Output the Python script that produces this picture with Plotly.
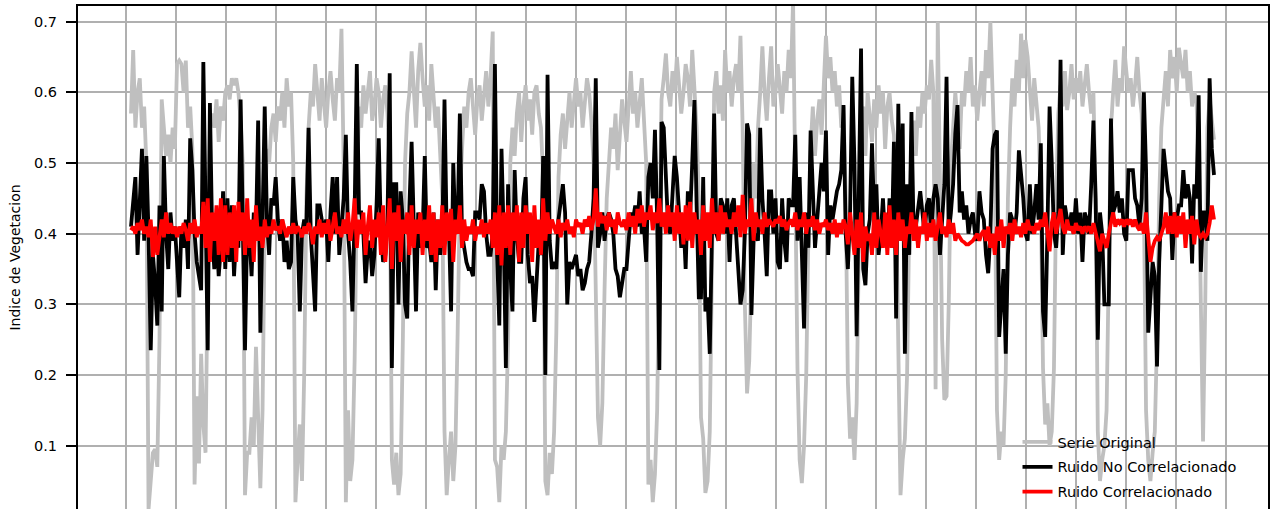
import numpy as np
import plotly.graph_objects as go

# time span of the series (decimal years), 16-day composites
t_start = 2000.106
t_end = 2021.766

serie_original = [
    0.57, 0.66, 0.55, 0.60, 0.62, 0.55, 0.58, 0.50,
    0.01, 0.06, 0.09, 0.095, 0.07, 0.25, 0.59,
    0.55, 0.51, 0.54, 0.50, 0.55, 0.52, 0.64, 0.645, 0.64, 0.60, 0.645, 0.55, 0.58, 0.52,
    0.045, 0.17, 0.075, 0.23, 0.13, 0.09, 0.35, 0.55,
    0.57, 0.55, 0.59, 0.53, 0.58, 0.56, 0.60, 0.61, 0.59, 0.62, 0.61, 0.62, 0.60, 0.56, 0.50,
    0.03, 0.09, 0.09, 0.14, 0.10, 0.24, 0.12, 0.04, 0.15, 0.42,
    0.52, 0.50, 0.55, 0.57, 0.53, 0.58, 0.56, 0.60, 0.55, 0.62, 0.58, 0.60, 0.50,
    0.02, 0.08, 0.13, 0.05, 0.20, 0.45,
    0.55, 0.60, 0.58, 0.64, 0.60, 0.56, 0.62, 0.58, 0.55, 0.60, 0.63, 0.59, 0.56, 0.62, 0.60,
    0.69, 0.50, 0.02, 0.15, 0.05, 0.08, 0.22, 0.45,
    0.58, 0.55, 0.61, 0.57, 0.60, 0.63, 0.56, 0.58, 0.62, 0.60, 0.55, 0.59, 0.61, 0.57, 0.50,
    0.08, 0.045, 0.09, 0.03, 0.06, 0.25, 0.50,
    0.57, 0.60, 0.658, 0.60, 0.55, 0.63, 0.67, 0.62, 0.58, 0.61, 0.56, 0.64, 0.60, 0.55, 0.58, 0.52, 0.45,
    0.12, 0.03, 0.08, 0.12, 0.05, 0.10, 0.26, 0.45,
    0.52, 0.58, 0.55, 0.60, 0.62, 0.57, 0.54, 0.59, 0.61, 0.56, 0.60, 0.63, 0.58, 0.62, 0.686,
    0.08, 0.07, 0.02, 0.10, 0.08, 0.12, 0.25, 0.50,
    0.55, 0.51, 0.57, 0.60, 0.53, 0.58, 0.61, 0.56, 0.59, 0.54, 0.60, 0.61, 0.57, 0.55, 0.48,
    0.05, 0.03, 0.09, 0.06, 0.12, 0.26, 0.48,
    0.54, 0.57, 0.52, 0.56, 0.60, 0.55, 0.58, 0.62, 0.58, 0.60, 0.55, 0.59, 0.62, 0.60, 0.56, 0.50,
    0.35, 0.14, 0.10, 0.16, 0.32, 0.45,
    0.50, 0.55, 0.52, 0.57, 0.49, 0.55, 0.59, 0.56, 0.53, 0.58, 0.63, 0.57, 0.60, 0.55, 0.58, 0.62, 0.56, 0.50,
    0.045, 0.08, 0.02, 0.06, 0.15, 0.40,
    0.59, 0.62, 0.655, 0.60, 0.58, 0.63, 0.60, 0.65, 0.61, 0.57, 0.60, 0.64, 0.62, 0.58, 0.66, 0.60, 0.55, 0.45,
    0.14, 0.11, 0.033, 0.05, 0.12, 0.35,
    0.60, 0.63, 0.57, 0.61, 0.56, 0.66, 0.60, 0.63, 0.58, 0.62, 0.64, 0.60, 0.68, 0.55,
    0.30, 0.174, 0.22, 0.35, 0.50, 0.45, 0.55,
    0.60, 0.665, 0.60, 0.56, 0.62, 0.665, 0.58, 0.60, 0.64, 0.61, 0.57, 0.63, 0.60, 0.66, 0.62, 0.73, 0.50,
    0.21, 0.08, 0.047, 0.10, 0.20, 0.40,
    0.52, 0.58, 0.51, 0.56, 0.59, 0.54, 0.60, 0.68, 0.62, 0.65, 0.60, 0.63, 0.58, 0.61, 0.55, 0.58, 0.45,
    0.19, 0.11, 0.14, 0.08, 0.16, 0.38,
    0.55, 0.58, 0.51, 0.60, 0.56, 0.53, 0.59, 0.55, 0.61, 0.57, 0.60, 0.52, 0.58, 0.60, 0.56, 0.54, 0.45,
    0.20, 0.03, 0.08, 0.11, 0.20, 0.42,
    0.52, 0.56, 0.51, 0.58, 0.55, 0.60, 0.57, 0.61, 0.59, 0.646, 0.60,
    0.18, 0.70, 0.45, 0.25, 0.165, 0.17, 0.30, 0.50,
    0.55, 0.60, 0.56, 0.52, 0.60, 0.58, 0.63, 0.60, 0.65, 0.58, 0.61, 0.56, 0.60, 0.63, 0.58, 0.66, 0.62, 0.70, 0.60, 0.50,
    0.15, 0.08, 0.12, 0.10, 0.20, 0.45,
    0.55, 0.62, 0.58, 0.646, 0.60, 0.683, 0.62, 0.674, 0.65, 0.60, 0.56, 0.62, 0.58, 0.55, 0.45,
    0.21, 0.13, 0.16, 0.10, 0.12, 0.21, 0.45,
    0.57, 0.61, 0.58, 0.63, 0.575, 0.60, 0.64, 0.59, 0.62, 0.60, 0.63, 0.58, 0.61, 0.64, 0.60, 0.57, 0.60, 0.45,
    0.12, 0.05, 0.08, 0.10, 0.15, 0.40,
    0.55, 0.60, 0.646, 0.58, 0.62, 0.60, 0.665, 0.63, 0.60, 0.62, 0.58, 0.61, 0.65, 0.60, 0.57, 0.45,
    0.15, 0.08, 0.05, 0.09, 0.12, 0.25, 0.45,
    0.55, 0.60, 0.63, 0.58, 0.66, 0.62, 0.65, 0.60, 0.663, 0.64, 0.62, 0.66, 0.60, 0.63, 0.58, 0.60, 0.59, 0.50,
    0.26, 0.106, 0.30, 0.55, 0.59, 0.56, 0.533,
]

ruido_no_correlacionado = [
    0.41, 0.44, 0.48, 0.37, 0.45, 0.52, 0.39, 0.51, 0.40, 0.235,
    0.37, 0.33, 0.27, 0.44, 0.29, 0.51, 0.40, 0.35, 0.43, 0.39,
    0.41, 0.36, 0.31, 0.41, 0.38, 0.42, 0.35, 0.535, 0.49, 0.40,
    0.36, 0.34, 0.32, 0.643, 0.40, 0.235, 0.585, 0.40, 0.35, 0.40,
    0.34, 0.38, 0.46, 0.35, 0.45, 0.36, 0.44, 0.34, 0.40, 0.38,
    0.59, 0.40, 0.235, 0.41, 0.40, 0.34, 0.43, 0.40, 0.56, 0.26,
    0.42, 0.58, 0.42, 0.37, 0.45, 0.44, 0.48, 0.42, 0.39, 0.42,
    0.36, 0.39, 0.35, 0.36, 0.48, 0.42, 0.40, 0.29, 0.40, 0.42,
    0.41, 0.55, 0.40, 0.33, 0.29, 0.44, 0.44, 0.42, 0.40, 0.42,
    0.36, 0.43, 0.48, 0.40, 0.48, 0.37, 0.42, 0.45, 0.54, 0.40,
    0.36, 0.29, 0.43, 0.64, 0.43, 0.43, 0.40, 0.33, 0.38, 0.39,
    0.34, 0.37, 0.44, 0.535, 0.40, 0.36, 0.37, 0.42, 0.627, 0.21,
    0.47, 0.47, 0.30, 0.46, 0.42, 0.30, 0.28, 0.44, 0.53, 0.40,
    0.29, 0.43, 0.38, 0.40, 0.51, 0.38, 0.39, 0.36, 0.43, 0.32,
    0.42, 0.37, 0.40, 0.59, 0.40, 0.41, 0.29, 0.50, 0.40, 0.42,
    0.57, 0.40, 0.38, 0.36, 0.35, 0.35, 0.34, 0.43, 0.43, 0.42,
    0.47, 0.46, 0.40, 0.37, 0.37, 0.40, 0.64, 0.37, 0.27, 0.52,
    0.40, 0.21, 0.47, 0.35, 0.29, 0.49, 0.40, 0.36, 0.36, 0.45,
    0.48, 0.37, 0.33, 0.34, 0.275, 0.34, 0.39, 0.37, 0.51, 0.20,
    0.625, 0.39, 0.35, 0.36, 0.35, 0.42, 0.45, 0.47, 0.43, 0.30,
    0.36, 0.35, 0.36, 0.37, 0.34, 0.35, 0.32, 0.33, 0.35, 0.36,
    0.40, 0.45, 0.62, 0.38, 0.40, 0.43, 0.39, 0.42, 0.43, 0.42,
    0.40, 0.35, 0.34, 0.31, 0.33, 0.35, 0.35, 0.39, 0.43, 0.42,
    0.44, 0.41, 0.46, 0.40, 0.41, 0.36, 0.48, 0.50, 0.45, 0.547,
    0.42, 0.207, 0.558, 0.55, 0.47, 0.41, 0.40, 0.46, 0.51, 0.48,
    0.43, 0.38, 0.42, 0.35, 0.46, 0.42, 0.50, 0.589, 0.44, 0.31,
    0.31, 0.48, 0.29, 0.31, 0.23, 0.37, 0.57, 0.40, 0.39, 0.45,
    0.44, 0.40, 0.45, 0.36, 0.44, 0.45, 0.40, 0.37, 0.30, 0.32,
    0.40, 0.556, 0.54, 0.285, 0.39, 0.40, 0.39, 0.55, 0.45, 0.40,
    0.34, 0.46, 0.46, 0.40, 0.45, 0.36, 0.35, 0.45, 0.39, 0.36,
    0.45, 0.44, 0.44, 0.54, 0.39, 0.48, 0.35, 0.266, 0.43, 0.38,
    0.546, 0.47, 0.38, 0.42, 0.47, 0.50, 0.46, 0.546, 0.37, 0.44,
    0.42, 0.44, 0.46, 0.47, 0.49, 0.582, 0.40, 0.35, 0.43, 0.622,
    0.50, 0.255, 0.47, 0.662, 0.35, 0.327, 0.40, 0.42, 0.528, 0.42,
    0.47, 0.37, 0.40, 0.45, 0.39, 0.38, 0.45, 0.38, 0.53, 0.28,
    0.584, 0.40, 0.556, 0.23, 0.47, 0.37, 0.572, 0.40, 0.41, 0.44,
    0.46, 0.43, 0.40, 0.44, 0.45, 0.40, 0.45, 0.47, 0.45, 0.37,
    0.43, 0.47, 0.622, 0.40, 0.43, 0.47, 0.542, 0.582, 0.43, 0.46,
    0.42, 0.44, 0.40, 0.42, 0.43, 0.40, 0.39, 0.46, 0.43, 0.42,
    0.37, 0.344, 0.40, 0.52, 0.54, 0.546, 0.254, 0.31, 0.35, 0.23,
    0.37, 0.43, 0.42, 0.40, 0.43, 0.518, 0.49, 0.45, 0.40, 0.39,
    0.47, 0.40, 0.43, 0.47, 0.42, 0.528, 0.29, 0.254, 0.40, 0.58,
    0.50, 0.40, 0.38, 0.43, 0.646, 0.37, 0.44, 0.42, 0.41, 0.43,
    0.40, 0.45, 0.40, 0.43, 0.36, 0.43, 0.42, 0.40, 0.47, 0.56,
    0.45, 0.25, 0.43, 0.40, 0.30, 0.30, 0.30, 0.563, 0.43, 0.44,
    0.46, 0.43, 0.45, 0.40, 0.39, 0.49, 0.49, 0.49, 0.45, 0.44,
    0.41, 0.45, 0.60, 0.49, 0.26, 0.32, 0.36, 0.34, 0.212, 0.36,
    0.45, 0.52, 0.49, 0.46, 0.45, 0.363, 0.43, 0.42, 0.44, 0.44,
    0.49, 0.45, 0.47, 0.45, 0.358, 0.47, 0.45, 0.596, 0.346, 0.43,
    0.43, 0.39, 0.62, 0.52, 0.483,
]

ruido_correlacionado = [
    0.405, 0.41, 0.40, 0.415, 0.405, 0.42, 0.40, 0.41, 0.395, 0.42, 0.367, 0.41, 0.37, 0.40, 0.42, 0.395, 0.43, 0.40, 0.415, 0.40, 0.41,
    0.395, 0.41, 0.40, 0.415, 0.405, 0.39, 0.415, 0.40, 0.42, 0.395, 0.41, 0.40, 0.445, 0.38, 0.45, 0.36, 0.43, 0.39, 0.44, 0.37, 0.45, 0.36, 0.44,
    0.37, 0.43, 0.38, 0.44, 0.36, 0.445, 0.39, 0.43, 0.37, 0.45, 0.38, 0.42, 0.36, 0.44, 0.39, 0.41, 0.38, 0.42, 0.395, 0.41, 0.40, 0.42, 0.405,
    0.41, 0.40, 0.42, 0.405, 0.395, 0.41, 0.40, 0.415, 0.40, 0.41, 0.405, 0.395, 0.41, 0.40, 0.415, 0.405, 0.385, 0.41, 0.40, 0.42, 0.395, 0.415, 0.40,
    0.42, 0.39, 0.41, 0.43, 0.40, 0.41, 0.395, 0.42, 0.40, 0.43, 0.39, 0.41, 0.45, 0.38, 0.42, 0.40, 0.43, 0.37, 0.41, 0.44, 0.38, 0.42, 0.395,
    0.43, 0.37, 0.44, 0.36, 0.415, 0.45, 0.35, 0.43, 0.39, 0.44, 0.36, 0.42, 0.40, 0.43, 0.37, 0.44, 0.38, 0.42, 0.40, 0.43, 0.37, 0.42, 0.39,
    0.44, 0.37, 0.43, 0.36, 0.42, 0.38, 0.44, 0.37, 0.43, 0.39, 0.435, 0.36, 0.42, 0.40, 0.44, 0.38, 0.42, 0.39, 0.41, 0.40, 0.42, 0.39, 0.41,
    0.40, 0.42, 0.395, 0.415, 0.40, 0.42, 0.38, 0.43, 0.37, 0.44, 0.355, 0.43, 0.38, 0.44, 0.37, 0.43, 0.39, 0.44, 0.36, 0.43, 0.38, 0.44, 0.40,
    0.43, 0.36, 0.44, 0.38, 0.42, 0.37, 0.45, 0.39, 0.43, 0.40, 0.42, 0.41, 0.40, 0.42, 0.395, 0.415, 0.405, 0.42, 0.40, 0.41, 0.395, 0.42, 0.41,
    0.415, 0.40, 0.42, 0.41, 0.425, 0.405, 0.42, 0.464, 0.41, 0.43, 0.415, 0.425, 0.405, 0.43, 0.41, 0.42, 0.40, 0.43, 0.415, 0.41, 0.42, 0.405, 0.43,
    0.41, 0.425, 0.40, 0.435, 0.415, 0.44, 0.41, 0.43, 0.42, 0.44, 0.405, 0.43, 0.415, 0.45, 0.41, 0.43, 0.40, 0.44, 0.41, 0.43, 0.39, 0.44, 0.40,
    0.43, 0.385, 0.44, 0.39, 0.445, 0.38, 0.43, 0.40, 0.42, 0.37, 0.44, 0.39, 0.43, 0.38, 0.45, 0.40, 0.43, 0.39, 0.44, 0.40, 0.43, 0.41, 0.42,
    0.40, 0.43, 0.41, 0.44, 0.395, 0.455, 0.40, 0.42, 0.41, 0.45, 0.39, 0.43, 0.41, 0.42, 0.40, 0.43, 0.41, 0.42, 0.415, 0.41, 0.42, 0.415, 0.425,
    0.41, 0.42, 0.405, 0.415, 0.42, 0.41, 0.43, 0.405, 0.42, 0.41, 0.43, 0.40, 0.42, 0.41, 0.425, 0.405, 0.42, 0.40, 0.415, 0.41, 0.42, 0.405, 0.415,
    0.40, 0.42, 0.395, 0.415, 0.40, 0.42, 0.41, 0.385, 0.43, 0.40, 0.37, 0.42, 0.38, 0.43, 0.36, 0.41, 0.39, 0.40, 0.37, 0.43, 0.38, 0.42, 0.40,
    0.38, 0.43, 0.37, 0.44, 0.38, 0.42, 0.37, 0.43, 0.39, 0.42, 0.38, 0.41, 0.40, 0.43, 0.39, 0.42, 0.38, 0.41, 0.40, 0.43, 0.39, 0.415, 0.395,
    0.42, 0.39, 0.41, 0.43, 0.40, 0.41, 0.395, 0.42, 0.40, 0.415, 0.39, 0.40, 0.395, 0.39, 0.388, 0.385, 0.385, 0.387, 0.39, 0.395, 0.40, 0.39, 0.40,
    0.405, 0.39, 0.41, 0.38, 0.40, 0.37, 0.41, 0.39, 0.42, 0.38, 0.41, 0.40, 0.415, 0.39, 0.42, 0.40, 0.41, 0.395, 0.415, 0.40, 0.42, 0.405, 0.41,
    0.40, 0.415, 0.405, 0.42, 0.41, 0.43, 0.40, 0.375, 0.415, 0.43, 0.40, 0.42, 0.435, 0.41, 0.40, 0.42, 0.405, 0.41, 0.40, 0.415, 0.405, 0.41, 0.40,
    0.41, 0.405, 0.41, 0.40, 0.415, 0.40, 0.39, 0.375, 0.40, 0.39, 0.38, 0.40, 0.415, 0.43, 0.41, 0.42, 0.415, 0.42, 0.41, 0.42,
    0.415, 0.42, 0.41, 0.42, 0.41, 0.405, 0.415, 0.40, 0.43, 0.40, 0.36, 0.38, 0.39, 0.395, 0.39, 0.40, 0.41, 0.43, 0.40, 0.425,
    0.40, 0.43, 0.395, 0.425, 0.40, 0.43, 0.38, 0.42, 0.40, 0.425, 0.385, 0.42, 0.40, 0.395, 0.40, 0.395, 0.40, 0.415, 0.44, 0.42,
]

series_names = ["Serie Original", "Ruido No Correlacionado", "Ruido Correlacionado"]
series_colors = ["#bfbfbf", "#000000", "#ff0000"]

y_ticks = [0.1, 0.2, 0.3, 0.4, 0.5, 0.6, 0.7]
y_tick_labels = ["0.1", "0.2", "0.3", "0.4", "0.5", "0.6", "0.7"]
y_title = "Indice de Vegetacion"

fig = go.Figure()
for k, (name, color, vals) in enumerate(zip(series_names, series_colors,
                                            [serie_original, ruido_no_correlacionado, ruido_correlacionado])):
    x = np.linspace(t_start, t_end, len(vals))
    fig.add_trace(go.Scatter(x=x, y=vals, mode="lines", name=name, legendgroup=f"g{k}",
                             line=dict(color=color, width=3.8)))

font_family = "DejaVu Sans"
fig.update_layout(
    width=1276, height=509,
    margin=dict(l=78, r=8, t=6, b=0, autoexpand=False),
    paper_bgcolor="white", plot_bgcolor="white",
    font=dict(family=font_family, size=14.5, color="black"),
    showlegend=True,
    legend=dict(x=0.7895, y=0.165, xanchor="left", yanchor="top",
                bgcolor="rgba(0,0,0,0)", borderwidth=0, tracegroupgap=3,
                font=dict(family=font_family, size=14.5, color="black")),
)
fig.update_xaxes(
    range=[1999.046, 2022.846], tick0=2000, dtick=1,
    showgrid=True, gridcolor="#b0b0b0", gridwidth=1.6,
    showticklabels=False, ticks="", zeroline=False, automargin=False,
    side="top", showline=True, linecolor="black", linewidth=2,
)
fig.update_yaxes(
    range=[0.0104, 0.7222], tickvals=y_ticks, ticktext=y_tick_labels,
    showgrid=True, gridcolor="#b0b0b0", gridwidth=1.6, zeroline=False,
    ticks="outside", ticklen=10, tickwidth=1.6, tickcolor="black",
    ticklabelstandoff=6, automargin=False,
    showline=True, mirror=True, linecolor="black", linewidth=2,
    tickfont=dict(family=font_family, size=14.5, color="black"),
    title=dict(text=y_title, font=dict(family=font_family, size=14, color="black"), standoff=10),
)

fig.write_html(
    "out.html",
    config={"displayModeBar": False},
    post_script="document.body.style.margin='0';document.body.style.overflow='hidden';",
)
